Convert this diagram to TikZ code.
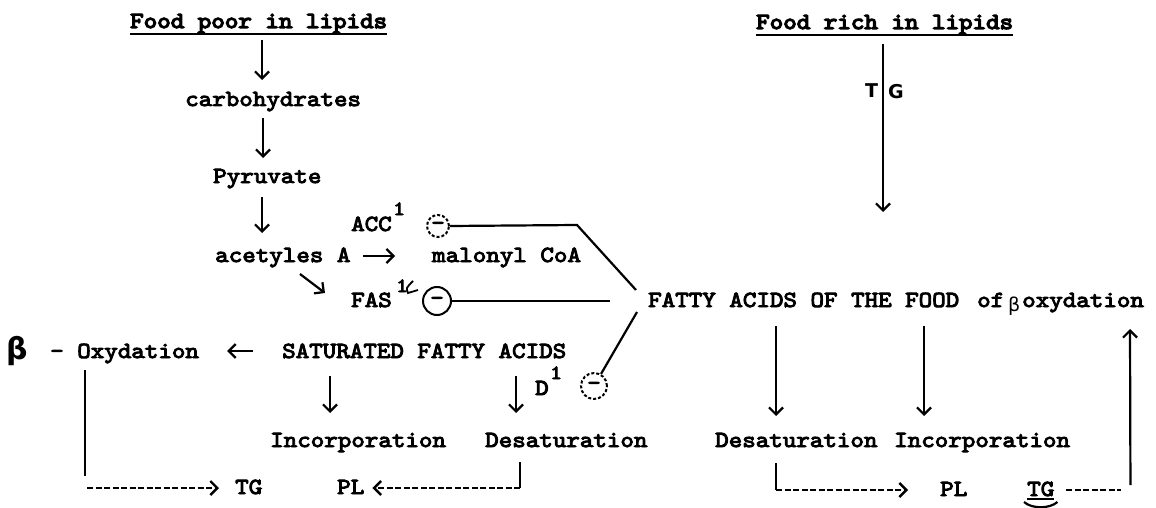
\documentclass[tikz,border=0pt]{standalone}
\usepackage{fontspec}
\usetikzlibrary{arrows.meta,calc}
\newfontfamily\tw{lmmono10-regular.otf}[FakeBold=4,FakeStretch=1.12]
\newfontfamily\twb{lmmono10-regular.otf}[FakeBold=5.5,FakeStretch=1.12]
\newfontfamily\hand{DejaVu Sans}
\tikzset{
  txt/.style={anchor=base west, inner sep=0pt, font=\tw\fontsize{23}{27}\selectfont},
  hd/.style={anchor=base west, inner sep=0pt, font=\twb\fontsize{23}{27}\selectfont},
  sup/.style={anchor=base west, inner sep=0pt, font=\tw\fontsize{20}{24}\selectfont},
  hw/.style={anchor=base west, inner sep=0pt, font=\hand\bfseries\fontsize{19}{22}\selectfont},
  arr/.style={line width=2.2pt, -{Straight Barb[length=7pt,width=14pt]}},
  ln/.style={line width=2.2pt},
  dsh/.style={line width=2.4pt, dash pattern=on 6pt off 2.5pt},
  dar/.style={dsh, -{Straight Barb[length=7pt,width=14pt]}},
  circ/.style={circle, draw, line width=2pt, inner sep=0pt, font=\tw\fontsize{23}{27}\selectfont},
}
\begin{document}
\begin{tikzpicture}[x=1pt,y=-1pt]
\useasboundingbox (0,0) rectangle (1156,508);
\fill[white] (0,0) rectangle (1156,508);

% ---- left column
\node[hd] (fpoor) at (130,28) {Food poor in lipids};
\draw[ln,line width=2.6pt] ([yshift=-6pt]fpoor.base west) -- ([yshift=-6pt]fpoor.base east);
\node[txt] (carb) at (185,106) {carbohydrates};
\node[txt] (pyr) at (213,183) {Pyruvate};
\node[txt] (acc) at (351,231) {ACC};
\node[sup] (acc1) at (393,215) {1};
\node[txt] (acet) at (215,262) {acetyles A};
\node[txt] (malo) at (432,262) {malonyl CoA};
\node[txt] (fas) at (351,307) {FAS};
\node[sup] (fas1) at (396,292) {1};
\node[hw, font=\hand\bfseries\fontsize{30}{32}\selectfont] (beta) at (6,359) {β};
\node[txt] (oxy) at (50,358) {- Oxydation};
\node[txt] (sat) at (282,358) {SATURATED FATTY ACIDS};
\node[txt] (d) at (535,395) {D};
\node[sup] (d1) at (550,379) {1};
\node[txt] (incl) at (270,447) {Incorporation};
\node[txt] (desl) at (485,447) {Desaturation};
\node[txt] (tgl) at (235,494) {TG};
\node[txt] (pll) at (337,494) {PL};

% circled minus signs
\node[circ, densely dashed, minimum size=22pt] (c1) at (438,226) {-};
\node[circ, minimum size=28pt] (c2) at (437,301) {-};
\node[circ, densely dashed, minimum size=26pt] (c3) at (594,386) {-};
% scribble after FAS superscript
\draw[line width=1.8pt] (413,281) .. controls (406,288) .. (408,293) -- (418,290);

% ---- right column
\node[hd] (frich) at (756,29) {Food rich in lipids};
\draw[ln,line width=2.6pt] ([yshift=-6pt]frich.base west) -- ([yshift=-6pt]frich.base east);
\node[hw] (tT) at (865,98) {T};
\node[hw] (tG) at (888,99) {G};
\node[txt] (fatty) at (648,307) {FATTY ACIDS OF THE FOOD};
\node[txt] (of) at (977,307) {of};
\node[hw, font=\hand\fontsize{19}{22}\selectfont] (b2) at (1008,311) {β};
\node[txt] (oxr) at (1022,307) {oxydation};
\node[txt] (desr) at (715,447) {Desaturation};
\node[txt] (incr) at (894,447) {Incorporation};
\node[txt] (plr) at (940,496) {PL};
\node[txt] (tgr) at (1027,496) {TG};

% ---- arrows, left
\draw[arr] ($(fpoor.base west)+(132,12)$) -- ($(carb.base west)+(77,-26)$);
\draw[arr] ($(carb.base west)+(78,12)$) -- ($(pyr.base west)+(50,-25)$);
\draw[arr] ($(pyr.base west)+(49,14)$) -- ($(acet.base west)+(47,-29)$);
\draw[arr] ($(acet.base west)+(148,-6)$) -- ($(malo.base west)+(-37,-6)$);
\draw[arr] ($(acet.base west)+(85,12)$) -- ($(fas.base west)+(-26,-14)$);
\draw[arr] ($(sat.base west)+(-29,-7)$) -- ($(oxy.base east)+(28,-7)$);
\draw[arr] ($(sat.base west)+(48,18)$) -- ($(incl.base west)+(60,-34)$);
\draw[arr] ($(sat.base west)+(234,18)$) -- ($(desl.base west)+(31,-34)$);
\draw[ln] ($(oxy.base west)+(35,12)$) -- ($(oxy.base west)+(35,118)$);
\draw[dar] ($(tgl.base west)+(-148,-6)$) -- ($(tgl.base west)+(-16,-6)$);
\draw[ln] ($(desl.base west)+(35,15)$) -- ($(desl.base west)+(35,41)$);
\draw[dar] ($(desl.base west)+(35,41)$) -- ($(pll.base east)+(8,-6)$);

% inhibition lines
\coordinate (k1) at ($(c1.center)+(139,-1)$);
\draw[ln] (c1.east) -- (k1) -- ($(fatty.base west)+(-12,-17)$);
\draw[ln] (c2.east) -- ($(fatty.base west)+(-38,-6)$);
\draw[ln] ($(fatty.base west)+(-11,5)$) -- (c3);

% ---- arrows, right
\draw[arr] ($(frich.base west)+(127,15)$) -- ($(fatty.base west)+(235,-95)$);
\draw[arr] ($(fatty.base west)+(128,19)$) -- ($(desr.base west)+(61,-31)$);
\draw[arr] ($(fatty.base west)+(276,19)$) -- ($(incr.base west)+(30,-31)$);
\draw[ln] ($(desr.base west)+(61,16)$) -- ($(desr.base west)+(61,43)$);
\draw[dar] ($(desr.base west)+(61,43)$) -- ($(plr.base west)+(-32,-6)$);
\draw[ln] ([yshift=-3pt]tgr.base west) -- ([yshift=-3pt]tgr.base east);
\draw[ln] ($(tgr.base west)+(-3,6)$) .. controls ($(tgr.base west)+(5,13)$) and ($(tgr.base east)+(-5,13)$) .. ($(tgr.base east)+(3,6)$);
\draw[dsh] ($(tgr.base east)+(12,-6)$) -- ($(tgr.base east)+(67,-6)$);
\draw[arr] ($(tgr.base east)+(76,-11)$) -- ($(oxr.base west)+(108,22)$);
\end{tikzpicture}
\end{document}
